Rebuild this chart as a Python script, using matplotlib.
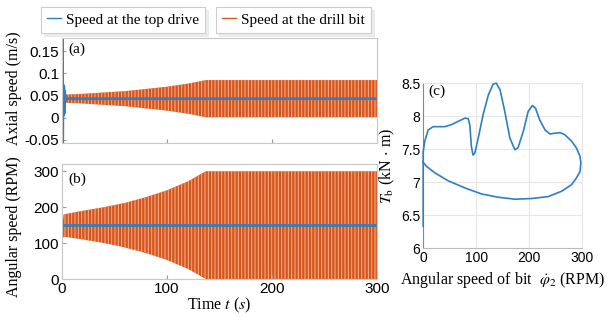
import matplotlib
matplotlib.use('Agg')
import matplotlib.pyplot as plt
from matplotlib.lines import Line2D

# envelope of the drill bit oscillation
t_env = [0.5, 1.5, 20, 40, 60, 80, 100, 120, 137, 300]
a_upper = [0.050, 0.052, 0.054, 0.057, 0.060, 0.065, 0.070, 0.077, 0.085, 0.085]
a_lower = [0.036, 0.034, 0.032, 0.029, 0.026, 0.021, 0.016, 0.009, 0.001, 0.001]
b_upper = [150, 180, 190, 200, 212, 228, 247, 272, 300, 300]
b_lower = [108, 118, 110, 100, 88, 72, 53, 28, 0, 0]

# top drive speed
ta_top = [0, 0.4, 0.6, 0.9, 1.3, 1.7, 2.1, 2.5, 3.0, 300]
va_top = [0.04, 0.20, -0.10, 0.075, 0.005, 0.07, 0.01, 0.06, 0.043, 0.043]
tb_top = [0, 300]
vb_top = [150, 150]

# (c) bit torque vs bit angular speed
c_speed = [0, 0, 0, 3, 9.4, 19, 41, 53, 66, 79, 85, 88, 91, 94, 97.5, 104, 113,
           123, 132, 138, 145, 154, 163.5, 173, 179, 189, 198, 206, 212, 220,
           230, 239, 248, 258, 267, 280, 289, 296, 297.5, 296, 289, 280, 261,
           236, 204, 173, 141.5, 110, 79, 47, 22, 6, 0]
c_torque = [6.33, 7.3, 7.46, 7.62, 7.79, 7.84, 7.84, 7.87, 7.92, 7.97, 7.96,
            7.87, 7.54, 7.41, 7.44, 7.67, 8.02, 8.32, 8.485, 8.5, 8.4, 8.07,
            7.67, 7.49, 7.52, 7.77, 8.07, 8.16, 8.12, 7.94, 7.79, 7.73, 7.74,
            7.75, 7.72, 7.62, 7.52, 7.39, 7.29, 7.16, 7.06, 6.96, 6.86, 6.78,
            6.75, 6.74, 6.77, 6.82, 6.91, 7.02, 7.14, 7.24, 7.3]

BLUE = '#2f7fc1'
ORANGE = '#d9541a'
STRIPE = '#f2b797'
SERIF = 'Liberation Serif'
SANS = 'Liberation Sans'

plt.rcParams['font.family'] = SANS
plt.rcParams['mathtext.fontset'] = 'stix'
plt.rcParams['hatch.linewidth'] = 0.7


def style_axes(ax, fs):
    for s in ax.spines.values():
        s.set_color('#c8c8c8')
        s.set_linewidth(0.8)
    ax.tick_params(direction='in', length=3, color='#999999',
                   labelsize=fs, top=False, right=False, pad=2)


fig = plt.figure(figsize=(6.08, 3.22), dpi=100)

ax_a = fig.add_axes([0.102, 0.556, 0.518, 0.326])
ax_b = fig.add_axes([0.102, 0.1335, 0.518, 0.357])
ax_c = fig.add_axes([0.696, 0.2298, 0.2615, 0.512])

# (a) axial speed
ax_a.fill_between(t_env, a_lower, a_upper, facecolor=ORANGE, edgecolor=STRIPE,
                  hatch='|||||', linewidth=0)
ax_a.plot(ta_top, va_top, color=BLUE, lw=2)
ax_a.set_xlim(0, 300)
ax_a.set_ylim(-0.057, 0.18)
ax_a.set_xticks([0, 100, 200, 300])
ax_a.set_xticklabels([])
ax_a.set_yticks([-0.05, 0, 0.05, 0.1, 0.15])
ax_a.set_yticklabels(['-0.05', '0', '0.05', '0.1', '0.15'])
style_axes(ax_a, 11)
ax_a.set_ylabel('Axial speed (m/s)', family=SERIF, fontsize=11.5)
ax_a.yaxis.set_label_coords(-0.128, 0.52)
ax_a.text(0.02, 0.96, '(a)', transform=ax_a.transAxes, va='top',
          family=SERIF, fontsize=11)

# (b) angular speed
ax_b.fill_between(t_env, b_lower, b_upper, facecolor=ORANGE, edgecolor=STRIPE,
                  hatch='|||||', linewidth=0)
ax_b.plot(tb_top, vb_top, color=BLUE, lw=2)
ax_b.set_xlim(0, 300)
ax_b.set_ylim(0, 320)
ax_b.set_xticks([0, 100, 200, 300])
ax_b.set_yticks([0, 100, 200, 300])
style_axes(ax_b, 11)
ax_b.set_ylabel('Angular speed (RPM)', family=SERIF, fontsize=11.5)
ax_b.yaxis.set_label_coords(-0.128, 0.46)
ax_b.set_xlabel('Time $t$ ($s$)', family=SERIF, fontsize=11.5, labelpad=0)
ax_b.text(0.02, 0.93, '(b)', transform=ax_b.transAxes, va='top',
          family=SERIF, fontsize=11)

# (c) torque on bit
ax_c.plot(c_speed, c_torque, color=BLUE, lw=1.2, zorder=3, clip_on=False)
ax_c.set_xlim(0, 300)
ax_c.set_ylim(6, 8.5)
ax_c.set_xticks([0, 100, 200, 300])
ax_c.set_yticks([6, 6.5, 7, 7.5, 8, 8.5])
ax_c.set_yticklabels(['6', '6.5', '7', '7.5', '8', '8.5'])
ax_c.grid(True, color='#e6e6e6', lw=0.8)
style_axes(ax_c, 10)
ax_c.spines['top'].set_color('#e6e6e6')
ax_c.spines['right'].set_color('#e6e6e6')
ax_c.spines['left'].set_color('#888888')
ax_c.spines['bottom'].set_color('#bbbbbb')
ax_c.tick_params(length=0)
ax_c.set_xlabel(r'Angular speed of bit  $\dot{\varphi}_2$ (RPM)',
                family=SERIF, fontsize=11.5, labelpad=4)
ax_c.set_ylabel(r'$T_{\mathrm{b}}$ (kN$\,\cdot\,$m)', family=SERIF,
                fontsize=11.5, labelpad=3)
ax_c.text(0.03, 0.99, '(c)', transform=ax_c.transAxes, va='top',
          family=SERIF, fontsize=11)

# legends, two separate boxes
leg_kw = dict(loc='upper left', frameon=True, fancybox=False, handlelength=0.9,
              handletextpad=0.35, borderpad=0.4, borderaxespad=0,
              shadow={'color': '#dddddd', 'ox': 2, 'oy': -2},
              prop={'family': SERIF, 'size': 11})
h1 = Line2D([], [], color=BLUE, lw=1)
h2 = Line2D([], [], color=ORANGE, lw=1)
l1 = fig.legend([h1], ['Speed at the top drive'],
                bbox_to_anchor=(41 / 608, 1 - 7 / 322), **leg_kw)
l2 = fig.legend([h2], ['Speed at the drill bit'],
                bbox_to_anchor=(216 / 608, 1 - 7 / 322), **leg_kw)
for lg in (l1, l2):
    lg.get_frame().set_edgecolor('#cccccc')
    lg.get_frame().set_linewidth(0.8)

fig.savefig('out.png', dpi=100)
